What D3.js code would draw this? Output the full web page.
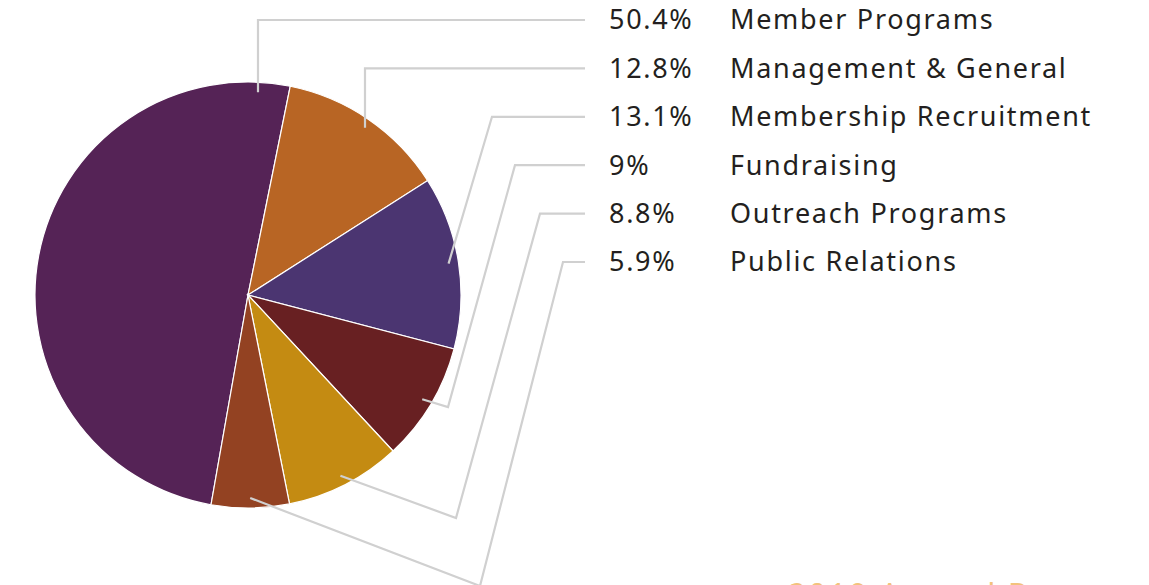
<!DOCTYPE html>
<html>
<head>
<meta charset="utf-8">
<script src="https://cdn.jsdelivr.net/npm/d3@7"></script>
<style>
    html, body { margin: 0; padding: 0; background: #fff; overflow: hidden; }
    svg { display: block; }
    .pie-label { font-family: "Noto Sans", sans-serif; font-size: 27px; fill: #231f20; letter-spacing: 1.7px; }
    .leader { fill: none; stroke: #d0d0d0; stroke-width: 2.2; }
</style>
</head>
<body>
<svg id="js-pie"></svg>
<script>
'use strict';

const categories = ['Member Programs', 'Management & General', 'Membership Recruitment', 'Fundraising', 'Outreach Programs', 'Public Relations'];
const shares = [50.4, 12.8, 13.1, 9, 8.8, 5.9];
const shareLabels = ['50.4%', '12.8%', '13.1%', '9%', '8.8%', '5.9%'];
const colors = ['#552356', '#b86524', '#4b3571', '#682022', '#c48b12', '#934222'];

(function () {
    const width = 1149;
    const height = 585;
    const cx = 248;
    const cy = 295;
    const radius = 213;

    const svg = d3.select('#js-pie')
        .attr('width', width)
        .attr('height', height);

    const data = categories.map((name, i) => ({name, value: shares[i], label: shareLabels[i], color: colors[i]}));

    // member programs wraps round the left side, management starts just right of 12 o'clock
    const pie = d3.pie()
        .sort(null)
        .value(d => d.value)
        .startAngle(-170 * Math.PI / 180)
        .endAngle(190 * Math.PI / 180);

    const arcs = pie(data);

    const arc = d3.arc()
        .innerRadius(0)
        .outerRadius(radius);

    const g = svg.append('g')
        .attr('transform', `translate(${cx},${cy})`);

    g.selectAll('path')
        .data(arcs)
        .join('path')
        .attr('d', arc)
        .attr('fill', d => d.data.color)
        .attr('stroke', '#fff')
        .attr('stroke-width', 1.2);

    // label rows
    const rowY = d3.scalePoint()
        .domain(categories)
        .range([20, 262]);

    // leader anchor: angle inside slice (member uses a custom spot near the top)
    const anchorRadius = 203;
    const anchorAngle = arcs.map((a, i) => i === 0 ? 2.8 * Math.PI / 180 : (a.startAngle + a.endAngle) / 2);
    const bends = [[], [], [], [[448, 407]], [[456, 518]], [[480, 586]]];
    const riseX = [258, 365, 492, 515, 540, 563];
    const lineEnd = 585;

    const line = d3.line();

    svg.append('g')
        .selectAll('path')
        .data(arcs)
        .join('path')
        .attr('class', 'leader')
        .attr('d', (d, i) => {
            const a = anchorAngle[i];
            const start = [cx + anchorRadius * Math.sin(a), cy - anchorRadius * Math.cos(a)];
            const y = rowY(d.data.name);
            if (i < 2) start[0] = riseX[i];
            return line([start, ...bends[i], [riseX[i], y], [lineEnd, y]]);
        });

    const labels = svg.append('g');

    labels.selectAll('text.pct')
        .data(data)
        .join('text')
        .attr('class', 'pie-label pct')
        .attr('x', 609)
        .attr('y', d => rowY(d.name))
        .attr('dy', '0.35em')
        .text(d => d.label);

    labels.selectAll('text.name')
        .data(data)
        .join('text')
        .attr('class', 'pie-label name')
        .attr('x', 730)
        .attr('y', d => rowY(d.name))
        .attr('dy', '0.35em')
        .text(d => d.name);

    svg.append('text')
        .attr('x', 788)
        .attr('y', 607)
        .style('font-family', '"Noto Sans", sans-serif')
        .style('font-size', '32px')
        .style('letter-spacing', '2px')
        .style('fill', '#f3c27c')
        .text('2019 Annual Report');
})();
</script>
</body>
</html>
